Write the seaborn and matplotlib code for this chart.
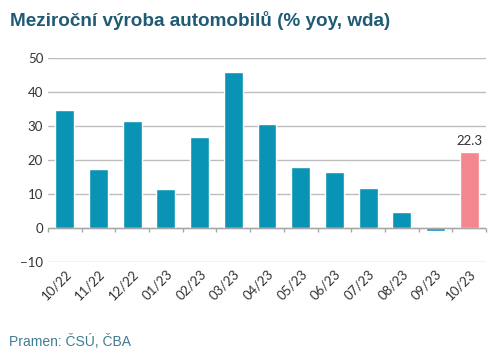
import numpy as np
import pandas as pd
import matplotlib
matplotlib.use("Agg")
import matplotlib.pyplot as plt
from matplotlib import font_manager
import seaborn as sns

months = ['10/22', '11/22', '12/22', '01/23', '02/23', '03/23', '04/23',
          '05/23', '06/23', '07/23', '08/23', '09/23', '10/23']
values = [34.6, 17.4, 31.6, 11.6, 26.9, 45.8, 30.5, 17.9, 16.6, 11.9, 4.8, -1.0, 22.3]
highlight = ['old'] * 12 + ['last']

df = pd.DataFrame({'month': months, 'value': values, 'kind': highlight})

sns.set_style("white")
names = {f.name for f in font_manager.fontManager.ttflist}
tick_font = 'Lato' if 'Lato' in names else 'Open Sans'
plt.rcParams['font.family'] = [tick_font, 'DejaVu Sans']

fig = plt.figure(figsize=(5, 3.6), dpi=100)
ax = fig.add_axes([0.096, 0.272, 0.876, 0.567])

sns.barplot(data=df, x='month', y='value', hue='kind',
            palette={'old': '#0994B6', 'last': '#F4868F'}, saturation=1,
            dodge=False, width=0.56, legend=False, ax=ax, zorder=3)

ax.set_ylim(-10, 50)
ax.set_xlim(-0.5, len(months) - 0.5)
ax.set_yticks(np.arange(-10, 51, 10))
ax.yaxis.grid(True, color='#BDBDBD', linewidth=1.0, zorder=0)
for s in ax.spines.values():
    s.set_visible(False)
ax.set_xlabel('')
ax.set_ylabel('')

# zero line with category boundary ticks
ax.axhline(0, color='#A6A6A6', linewidth=1.0, zorder=4)
bounds = np.arange(-0.5, len(months), 1.0)
ax.vlines(bounds, -1.1, 0, color='#A6A6A6', linewidth=1.0, zorder=4, clip_on=False)

ax.tick_params(axis='both', length=0, labelsize=9.5, colors='#333333')
ax.tick_params(axis='x', pad=4)
for lbl in ax.get_xticklabels():
    lbl.set_rotation(45)
    lbl.set_ha('right')
    lbl.set_rotation_mode('anchor')

ax.annotate(f"{values[-1]:.1f}", (len(months) - 1, values[-1]),
            xytext=(0, 4), textcoords='offset points', ha='center', va='bottom',
            fontsize=9.5, color='#333333')

fig.text(0.02, 0.944, 'Meziroční výroba automobilů (% yoy, wda)',
         fontsize=13.6, fontweight='bold', color='#1F5B75',
         family=['Liberation Sans', 'DejaVu Sans'], va='center')
fig.text(0.018, 0.052, 'Pramen: ČSÚ, ČBA', fontsize=10, color='#3F7C95',
         family=['Liberation Sans', 'DejaVu Sans'], va='center')

fig.savefig('out.png', dpi=100)
